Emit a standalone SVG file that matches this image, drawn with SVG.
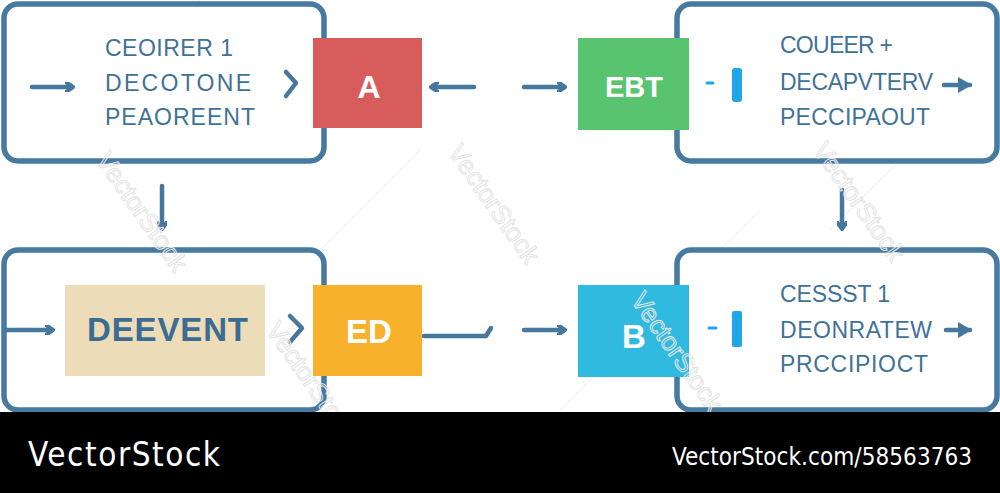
<svg xmlns="http://www.w3.org/2000/svg" width="1000" height="493" viewBox="0 0 1000 493">
<style>
.frame{fill:#fff;stroke:#477aa1;stroke-width:5.5}
.txt{font-family:"Liberation Sans",Arial,sans-serif;font-size:23px;fill:#3f7298}
.lbl{font-family:"Liberation Sans",Arial,sans-serif;font-weight:bold;fill:#fff;text-anchor:middle}
.con{fill:none;stroke:#46789f;stroke-width:4.5;stroke-linecap:round;stroke-linejoin:round}
.wm{font-family:"Liberation Sans",Arial,sans-serif;font-size:26px;fill:none;stroke:#e4e4e4;stroke-width:1}
.bar{fill:#1ea6e8}
</style>
<defs>
<marker id="ah" markerWidth="10" markerHeight="10" refX="7" refY="5" orient="auto" markerUnits="userSpaceOnUse">
<path d="M1,0 L8,5 L1,10" fill="none" stroke="#46789f" stroke-width="4" stroke-linecap="round" stroke-linejoin="round"/>
</marker>
<marker id="ahf" markerWidth="16" markerHeight="16" refX="12" refY="8" orient="auto" markerUnits="userSpaceOnUse">
<path d="M0,0 L14,8 L0,16 Z" fill="#46789f"/>
</marker>
</defs>
<rect width="1000" height="493" fill="#fff"/>

<g id="watermark-lines" stroke="#ececec" stroke-width="1">
<line x1="40" y1="160" x2="200" y2="0"/>
<line x1="160" y1="410" x2="420" y2="150"/>
<line x1="560" y1="410" x2="760" y2="210"/>
<line x1="830" y1="230" x2="990" y2="70"/>
</g>

<g id="node-tl">
<rect class="frame" x="4" y="4" width="320" height="157" rx="14"/>
<text class="txt" x="105" y="56" textLength="128">CEOIRER 1</text>
<text class="txt" x="105" y="91" textLength="146">DECOTONE</text>
<text class="txt" x="105" y="125" textLength="150">PEAOREENT</text>
</g>
<g id="node-tr">
<rect class="frame" x="677" y="4" width="320" height="157" rx="14"/>
<text class="txt" x="780" y="53" textLength="113">COUEER +</text>
<text class="txt" x="780" y="90" textLength="153">DECAPVTERV</text>
<text class="txt" x="780" y="125" textLength="150">PECCIPAOUT</text>
</g>
<g id="node-bl">
<rect class="frame" x="4" y="250" width="320" height="160" rx="14"/>
<rect x="65" y="285" width="200" height="91" fill="#ecdcb8"/>
<text x="87" y="341" textLength="161" style="font-family:'Liberation Sans',Arial,sans-serif;font-weight:bold;font-size:33px;fill:#3d6c92">DEEVENT</text>
</g>
<g id="node-br">
<rect class="frame" x="677" y="250" width="320" height="160" rx="14"/>
<text class="txt" x="780" y="302" textLength="110">CESSST 1</text>
<text class="txt" x="780" y="338" textLength="152">DEONRATEW</text>
<text class="txt" x="780" y="372" textLength="148">PRCCIPIOCT</text>
</g>

<g id="node-A">
<rect x="313" y="38" width="109" height="90" fill="#d95c5c"/>
<text class="lbl" x="369" y="98" font-size="32">A</text>
</g>
<g id="node-EBT">
<rect x="578" y="38" width="111" height="92" fill="#58c46f"/>
<text class="lbl" x="634" y="97" font-size="29">EBT</text>
</g>
<g id="node-ED">
<rect x="313" y="285" width="109" height="91" fill="#f8b12c"/>
<text class="lbl" x="369" y="343" font-size="33">ED</text>
</g>
<g id="node-B">
<rect x="578" y="285" width="111" height="92" fill="#30badf"/>
<text class="lbl" x="634" y="348" font-size="33">B</text>
</g>

<g id="connectors">
<line class="con" x1="32" y1="87" x2="72" y2="87" marker-end="url(#ah)"/>
<path class="con" d="M286,72 L296,83 L286,96"/>
<line class="con" x1="474" y1="87" x2="432" y2="87" marker-end="url(#ah)"/>
<line class="con" x1="524" y1="87" x2="564" y2="87" marker-end="url(#ah)"/>
<line x1="707" y1="83" x2="713" y2="83" stroke="#1ea6e8" stroke-width="3" stroke-linecap="round"/>
<rect class="bar" x="732" y="68" width="10" height="34" rx="3"/>
<line class="con" x1="944" y1="85" x2="970" y2="85" marker-end="url(#ahf)"/>
<line class="con" x1="162" y1="186" x2="162" y2="228" marker-end="url(#ah)"/>
<line class="con" x1="842" y1="190" x2="842" y2="228" marker-end="url(#ah)"/>
<line class="con" x1="6" y1="330" x2="52" y2="330" marker-end="url(#ah)"/>
<path class="con" d="M290,316 L302,328 L290,342"/>
<path class="con" d="M424,336 L486,336 L491,328"/>
<line class="con" x1="524" y1="330" x2="564" y2="330" marker-end="url(#ah)"/>
<line x1="709" y1="328" x2="716" y2="328" stroke="#1ea6e8" stroke-width="3" stroke-linecap="round"/>
<rect class="bar" x="732" y="311" width="10" height="36" rx="2"/>
<line class="con" x1="946" y1="330" x2="970" y2="330" marker-end="url(#ahf)"/>
</g>

<g id="watermarks">
<text class="wm" transform="translate(95,160) rotate(55)">VectorStock</text>
<text class="wm" transform="translate(447,152) rotate(55)">VectorStock</text>
<text class="wm" transform="translate(812,150) rotate(55)">VectorStock</text>
<text class="wm" transform="translate(265,330) rotate(55)">VectorStock</text>
<text class="wm" transform="translate(630,300) rotate(55)">VectorStock</text>
</g>

<g id="footer">
<rect x="0" y="412" width="1000" height="81" fill="#000"/>
<text x="28" y="466" textLength="192" style="font-family:'DejaVu Sans Condensed','Liberation Sans',sans-serif;font-size:33px;fill:#fff">VectorStock</text>
<text x="672" y="465" textLength="300" style="font-family:'DejaVu Sans Condensed','Liberation Sans',sans-serif;font-size:24px;fill:#fff">VectorStock.com/58563763</text>
</g>
</svg>
